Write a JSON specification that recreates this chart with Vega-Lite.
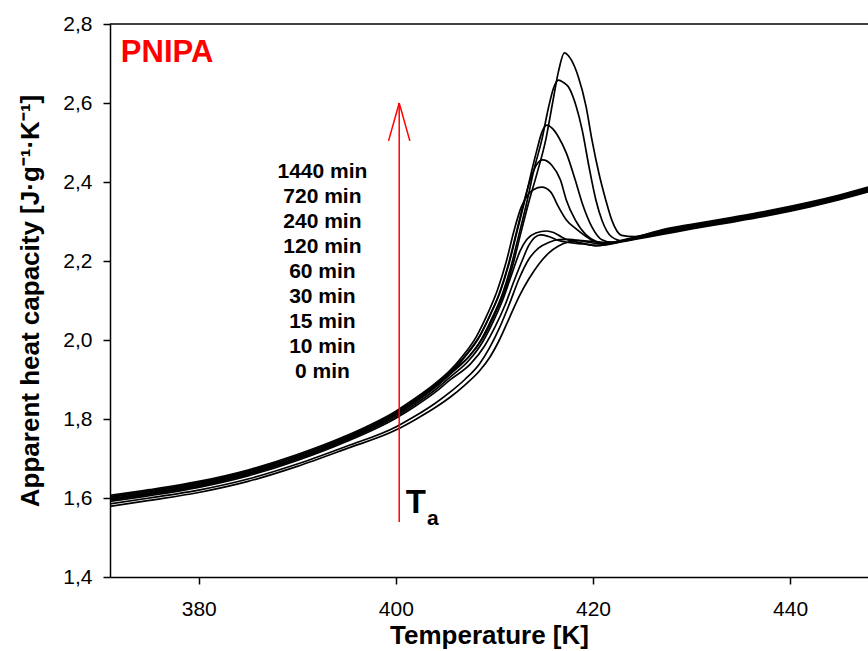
{
  "$schema": "https://vega.github.io/schema/vega-lite/v6.json",
  "width": 758,
  "height": 553,
  "autosize": {"type": "none"},
  "padding": {"left": 110, "top": 24, "right": 0, "bottom": 74},
  "background": "white",
  "config": {
    "view": {"stroke": null},
    "font": "Liberation Sans",
    "axis": {
      "domainColor": "black", "domainWidth": 1.5, "tickColor": "black", "tickWidth": 1.5, "tickSize": 7,
      "labelFont": "Liberation Sans", "labelFontSize": 21, "labelColor": "black",
      "titleFont": "Liberation Sans", "titleFontSize": 26, "titleFontWeight": "bold", "titleColor": "black",
      "grid": false
    }
  },
  "datasets": {
    "curves": [
      {"time":"1440 min","T":370.5,"Cp":1.600},{"time":"1440 min","T":375,"Cp":1.616},{"time":"1440 min","T":380,"Cp":1.637},{"time":"1440 min","T":385,"Cp":1.666},{"time":"1440 min","T":390,"Cp":1.705},{"time":"1440 min","T":395,"Cp":1.753},{"time":"1440 min","T":400,"Cp":1.815},{"time":"1440 min","T":402,"Cp":1.848},{"time":"1440 min","T":404,"Cp":1.885},{"time":"1440 min","T":405.5,"Cp":1.918},{"time":"1440 min","T":407.5,"Cp":1.960},{"time":"1440 min","T":408.9,"Cp":2.008},{"time":"1440 min","T":410.0,"Cp":2.063},{"time":"1440 min","T":411.0,"Cp":2.121},{"time":"1440 min","T":411.9,"Cp":2.193},{"time":"1440 min","T":412.7,"Cp":2.273},{"time":"1440 min","T":413.5,"Cp":2.35},{"time":"1440 min","T":414.3,"Cp":2.42},{"time":"1440 min","T":415.2,"Cp":2.506},{"time":"1440 min","T":415.9,"Cp":2.60},{"time":"1440 min","T":416.5,"Cp":2.68},{"time":"1440 min","T":417.1,"Cp":2.727},{"time":"1440 min","T":417.8,"Cp":2.709},{"time":"1440 min","T":418.5,"Cp":2.667},{"time":"1440 min","T":419.3,"Cp":2.591},{"time":"1440 min","T":419.9,"Cp":2.506},{"time":"1440 min","T":420.6,"Cp":2.422},{"time":"1440 min","T":421.3,"Cp":2.354},{"time":"1440 min","T":421.9,"Cp":2.304},{"time":"1440 min","T":422.9,"Cp":2.265},{"time":"1440 min","T":424.2,"Cp":2.262},{"time":"1440 min","T":427,"Cp":2.275},{"time":"1440 min","T":430,"Cp":2.289},{"time":"1440 min","T":434,"Cp":2.306},{"time":"1440 min","T":438,"Cp":2.324},{"time":"1440 min","T":442,"Cp":2.345},{"time":"1440 min","T":445,"Cp":2.363},{"time":"1440 min","T":448.5,"Cp":2.387},

      {"time":"720 min","T":370.5,"Cp":1.595},{"time":"720 min","T":375,"Cp":1.611},{"time":"720 min","T":380,"Cp":1.632},{"time":"720 min","T":385,"Cp":1.661},{"time":"720 min","T":390,"Cp":1.700},{"time":"720 min","T":395,"Cp":1.748},{"time":"720 min","T":400,"Cp":1.810},{"time":"720 min","T":402,"Cp":1.843},{"time":"720 min","T":404,"Cp":1.880},{"time":"720 min","T":405.5,"Cp":1.913},{"time":"720 min","T":407.3,"Cp":1.955},{"time":"720 min","T":408.7,"Cp":2.003},{"time":"720 min","T":409.8,"Cp":2.058},{"time":"720 min","T":410.8,"Cp":2.116},{"time":"720 min","T":411.7,"Cp":2.188},{"time":"720 min","T":412.5,"Cp":2.268},{"time":"720 min","T":413.3,"Cp":2.35},{"time":"720 min","T":414.0,"Cp":2.43},{"time":"720 min","T":414.8,"Cp":2.506},{"time":"720 min","T":415.5,"Cp":2.59},{"time":"720 min","T":416.0,"Cp":2.638},{"time":"720 min","T":416.5,"Cp":2.658},{"time":"720 min","T":417.0,"Cp":2.652},{"time":"720 min","T":417.5,"Cp":2.641},{"time":"720 min","T":418.3,"Cp":2.591},{"time":"720 min","T":418.9,"Cp":2.532},{"time":"720 min","T":419.6,"Cp":2.438},{"time":"720 min","T":420.3,"Cp":2.354},{"time":"720 min","T":420.9,"Cp":2.304},{"time":"720 min","T":421.9,"Cp":2.261},{"time":"720 min","T":423,"Cp":2.251},{"time":"720 min","T":424.5,"Cp":2.258},{"time":"720 min","T":427,"Cp":2.271},{"time":"720 min","T":430,"Cp":2.285},{"time":"720 min","T":434,"Cp":2.302},{"time":"720 min","T":438,"Cp":2.320},{"time":"720 min","T":442,"Cp":2.341},{"time":"720 min","T":445,"Cp":2.359},{"time":"720 min","T":448.5,"Cp":2.383},

      {"time":"240 min","T":370.5,"Cp":1.602},{"time":"240 min","T":375,"Cp":1.618},{"time":"240 min","T":380,"Cp":1.639},{"time":"240 min","T":385,"Cp":1.668},{"time":"240 min","T":390,"Cp":1.707},{"time":"240 min","T":395,"Cp":1.755},{"time":"240 min","T":400,"Cp":1.817},{"time":"240 min","T":402,"Cp":1.850},{"time":"240 min","T":404,"Cp":1.887},{"time":"240 min","T":405.5,"Cp":1.920},{"time":"240 min","T":407.1,"Cp":1.962},{"time":"240 min","T":408.5,"Cp":2.010},{"time":"240 min","T":409.6,"Cp":2.065},{"time":"240 min","T":410.6,"Cp":2.123},{"time":"240 min","T":411.5,"Cp":2.195},{"time":"240 min","T":412.3,"Cp":2.275},{"time":"240 min","T":413.1,"Cp":2.355},{"time":"240 min","T":413.8,"Cp":2.43},{"time":"240 min","T":414.3,"Cp":2.48},{"time":"240 min","T":414.8,"Cp":2.525},{"time":"240 min","T":415.3,"Cp":2.544},{"time":"240 min","T":415.9,"Cp":2.535},{"time":"240 min","T":416.5,"Cp":2.514},{"time":"240 min","T":417.3,"Cp":2.473},{"time":"240 min","T":418.2,"Cp":2.405},{"time":"240 min","T":418.9,"Cp":2.347},{"time":"240 min","T":419.9,"Cp":2.286},{"time":"240 min","T":420.9,"Cp":2.254},{"time":"240 min","T":422,"Cp":2.247},{"time":"240 min","T":423,"Cp":2.252},{"time":"240 min","T":424.5,"Cp":2.261},{"time":"240 min","T":427,"Cp":2.277},{"time":"240 min","T":430,"Cp":2.291},{"time":"240 min","T":434,"Cp":2.308},{"time":"240 min","T":438,"Cp":2.326},{"time":"240 min","T":442,"Cp":2.347},{"time":"240 min","T":445,"Cp":2.365},{"time":"240 min","T":448.5,"Cp":2.389},

      {"time":"120 min","T":370.5,"Cp":1.597},{"time":"120 min","T":375,"Cp":1.613},{"time":"120 min","T":380,"Cp":1.634},{"time":"120 min","T":385,"Cp":1.663},{"time":"120 min","T":390,"Cp":1.702},{"time":"120 min","T":395,"Cp":1.750},{"time":"120 min","T":400,"Cp":1.812},{"time":"120 min","T":402,"Cp":1.845},{"time":"120 min","T":404,"Cp":1.882},{"time":"120 min","T":405.5,"Cp":1.915},{"time":"120 min","T":407,"Cp":1.957},{"time":"120 min","T":408.4,"Cp":2.005},{"time":"120 min","T":409.5,"Cp":2.06},{"time":"120 min","T":410.5,"Cp":2.118},{"time":"120 min","T":411.4,"Cp":2.19},{"time":"120 min","T":412.2,"Cp":2.27},{"time":"120 min","T":413.0,"Cp":2.35},{"time":"120 min","T":413.7,"Cp":2.41},{"time":"120 min","T":414.3,"Cp":2.445},{"time":"120 min","T":414.9,"Cp":2.456},{"time":"120 min","T":415.8,"Cp":2.443},{"time":"120 min","T":416.7,"Cp":2.405},{"time":"120 min","T":417.3,"Cp":2.354},{"time":"120 min","T":418.2,"Cp":2.304},{"time":"120 min","T":419.3,"Cp":2.266},{"time":"120 min","T":420.3,"Cp":2.250},{"time":"120 min","T":421.5,"Cp":2.244},{"time":"120 min","T":423,"Cp":2.250},{"time":"120 min","T":424.5,"Cp":2.257},{"time":"120 min","T":427,"Cp":2.269},{"time":"120 min","T":430,"Cp":2.283},{"time":"120 min","T":434,"Cp":2.300},{"time":"120 min","T":438,"Cp":2.318},{"time":"120 min","T":442,"Cp":2.339},{"time":"120 min","T":445,"Cp":2.357},{"time":"120 min","T":448.5,"Cp":2.381},

      {"time":"60 min","T":370.5,"Cp":1.605},{"time":"60 min","T":375,"Cp":1.621},{"time":"60 min","T":380,"Cp":1.642},{"time":"60 min","T":385,"Cp":1.671},{"time":"60 min","T":390,"Cp":1.710},{"time":"60 min","T":395,"Cp":1.758},{"time":"60 min","T":400,"Cp":1.820},{"time":"60 min","T":402,"Cp":1.853},{"time":"60 min","T":404,"Cp":1.890},{"time":"60 min","T":405.5,"Cp":1.923},{"time":"60 min","T":406.8,"Cp":1.960},{"time":"60 min","T":408.2,"Cp":2.010},{"time":"60 min","T":409.3,"Cp":2.066},{"time":"60 min","T":410.3,"Cp":2.126},{"time":"60 min","T":411.2,"Cp":2.198},{"time":"60 min","T":412.0,"Cp":2.278},{"time":"60 min","T":412.7,"Cp":2.335},{"time":"60 min","T":413.4,"Cp":2.368},{"time":"60 min","T":414.0,"Cp":2.381},{"time":"60 min","T":414.8,"Cp":2.387},{"time":"60 min","T":415.7,"Cp":2.375},{"time":"60 min","T":416.5,"Cp":2.337},{"time":"60 min","T":417.3,"Cp":2.304},{"time":"60 min","T":418.2,"Cp":2.283},{"time":"60 min","T":419.3,"Cp":2.262},{"time":"60 min","T":420.3,"Cp":2.248},{"time":"60 min","T":421.5,"Cp":2.245},{"time":"60 min","T":423,"Cp":2.251},{"time":"60 min","T":424.5,"Cp":2.259},{"time":"60 min","T":427,"Cp":2.273},{"time":"60 min","T":430,"Cp":2.287},{"time":"60 min","T":434,"Cp":2.304},{"time":"60 min","T":438,"Cp":2.322},{"time":"60 min","T":442,"Cp":2.343},{"time":"60 min","T":445,"Cp":2.361},{"time":"60 min","T":448.5,"Cp":2.385},

      {"time":"30 min","T":370.5,"Cp":1.593},{"time":"30 min","T":375,"Cp":1.609},{"time":"30 min","T":380,"Cp":1.630},{"time":"30 min","T":385,"Cp":1.659},{"time":"30 min","T":390,"Cp":1.698},{"time":"30 min","T":395,"Cp":1.746},{"time":"30 min","T":400,"Cp":1.806},{"time":"30 min","T":402,"Cp":1.838},{"time":"30 min","T":404,"Cp":1.874},{"time":"30 min","T":405.5,"Cp":1.906},{"time":"30 min","T":407.4,"Cp":1.948},{"time":"30 min","T":408.8,"Cp":1.995},{"time":"30 min","T":409.9,"Cp":2.048},{"time":"30 min","T":410.9,"Cp":2.105},{"time":"30 min","T":411.8,"Cp":2.17},{"time":"30 min","T":412.6,"Cp":2.225},{"time":"30 min","T":413.3,"Cp":2.255},{"time":"30 min","T":414.2,"Cp":2.271},{"time":"30 min","T":415.3,"Cp":2.276},{"time":"30 min","T":416.0,"Cp":2.272},{"time":"30 min","T":416.8,"Cp":2.261},{"time":"30 min","T":417.5,"Cp":2.253},{"time":"30 min","T":418.8,"Cp":2.246},{"time":"30 min","T":420.3,"Cp":2.239},{"time":"30 min","T":421.5,"Cp":2.243},{"time":"30 min","T":423,"Cp":2.253},{"time":"30 min","T":424.5,"Cp":2.262},{"time":"30 min","T":427,"Cp":2.279},{"time":"30 min","T":430,"Cp":2.293},{"time":"30 min","T":434,"Cp":2.310},{"time":"30 min","T":438,"Cp":2.328},{"time":"30 min","T":442,"Cp":2.349},{"time":"30 min","T":445,"Cp":2.367},{"time":"30 min","T":448.5,"Cp":2.391},

      {"time":"15 min","T":370.5,"Cp":1.590},{"time":"15 min","T":375,"Cp":1.606},{"time":"15 min","T":380,"Cp":1.627},{"time":"15 min","T":385,"Cp":1.656},{"time":"15 min","T":390,"Cp":1.695},{"time":"15 min","T":395,"Cp":1.743},{"time":"15 min","T":400,"Cp":1.802},{"time":"15 min","T":402,"Cp":1.833},{"time":"15 min","T":404,"Cp":1.868},{"time":"15 min","T":405.5,"Cp":1.899},{"time":"15 min","T":407.6,"Cp":1.940},{"time":"15 min","T":409.0,"Cp":1.985},{"time":"15 min","T":410.1,"Cp":2.035},{"time":"15 min","T":411.1,"Cp":2.09},{"time":"15 min","T":412.0,"Cp":2.15},{"time":"15 min","T":412.8,"Cp":2.20},{"time":"15 min","T":413.5,"Cp":2.24},{"time":"15 min","T":414.1,"Cp":2.26},{"time":"15 min","T":414.7,"Cp":2.266},{"time":"15 min","T":415.5,"Cp":2.262},{"time":"15 min","T":416.5,"Cp":2.252},{"time":"15 min","T":417.5,"Cp":2.247},{"time":"15 min","T":419,"Cp":2.243},{"time":"15 min","T":420.5,"Cp":2.239},{"time":"15 min","T":422,"Cp":2.244},{"time":"15 min","T":423,"Cp":2.249},{"time":"15 min","T":424.5,"Cp":2.256},{"time":"15 min","T":427,"Cp":2.267},{"time":"15 min","T":430,"Cp":2.281},{"time":"15 min","T":434,"Cp":2.298},{"time":"15 min","T":438,"Cp":2.316},{"time":"15 min","T":442,"Cp":2.337},{"time":"15 min","T":445,"Cp":2.355},{"time":"15 min","T":448.5,"Cp":2.379},

      {"time":"10 min","T":370.5,"Cp":1.583},{"time":"10 min","T":375,"Cp":1.600},{"time":"10 min","T":380,"Cp":1.620},{"time":"10 min","T":385,"Cp":1.648},{"time":"10 min","T":390,"Cp":1.686},{"time":"10 min","T":395,"Cp":1.731},{"time":"10 min","T":400,"Cp":1.780},{"time":"10 min","T":402,"Cp":1.808},{"time":"10 min","T":404,"Cp":1.840},{"time":"10 min","T":405.5,"Cp":1.868},{"time":"10 min","T":407,"Cp":1.900},{"time":"10 min","T":408.5,"Cp":1.94},{"time":"10 min","T":409.5,"Cp":1.98},{"time":"10 min","T":410.5,"Cp":2.03},{"time":"10 min","T":411.5,"Cp":2.09},{"time":"10 min","T":412.5,"Cp":2.155},{"time":"10 min","T":413.5,"Cp":2.205},{"time":"10 min","T":414.5,"Cp":2.233},{"time":"10 min","T":415.5,"Cp":2.247},{"time":"10 min","T":416.5,"Cp":2.254},{"time":"10 min","T":417.5,"Cp":2.255},{"time":"10 min","T":419,"Cp":2.250},{"time":"10 min","T":420.5,"Cp":2.244},{"time":"10 min","T":422,"Cp":2.247},{"time":"10 min","T":423,"Cp":2.252},{"time":"10 min","T":424.5,"Cp":2.260},{"time":"10 min","T":427,"Cp":2.275},{"time":"10 min","T":430,"Cp":2.289},{"time":"10 min","T":434,"Cp":2.306},{"time":"10 min","T":438,"Cp":2.324},{"time":"10 min","T":442,"Cp":2.345},{"time":"10 min","T":445,"Cp":2.363},{"time":"10 min","T":448.5,"Cp":2.387},

      {"time":"0 min","T":370.5,"Cp":1.577},{"time":"0 min","T":375,"Cp":1.594},{"time":"0 min","T":380,"Cp":1.614},{"time":"0 min","T":385,"Cp":1.642},{"time":"0 min","T":390,"Cp":1.680},{"time":"0 min","T":395,"Cp":1.725},{"time":"0 min","T":400,"Cp":1.772},{"time":"0 min","T":402,"Cp":1.799},{"time":"0 min","T":404,"Cp":1.829},{"time":"0 min","T":405.5,"Cp":1.855},{"time":"0 min","T":407,"Cp":1.886},{"time":"0 min","T":408.5,"Cp":1.922},{"time":"0 min","T":409.5,"Cp":1.955},{"time":"0 min","T":410.5,"Cp":2.0},{"time":"0 min","T":411.5,"Cp":2.055},{"time":"0 min","T":412.5,"Cp":2.11},{"time":"0 min","T":413.5,"Cp":2.155},{"time":"0 min","T":414.5,"Cp":2.192},{"time":"0 min","T":415.5,"Cp":2.22},{"time":"0 min","T":416.5,"Cp":2.238},{"time":"0 min","T":417.5,"Cp":2.248},{"time":"0 min","T":418.5,"Cp":2.252},{"time":"0 min","T":420,"Cp":2.249},{"time":"0 min","T":421.5,"Cp":2.247},{"time":"0 min","T":423,"Cp":2.251},{"time":"0 min","T":424.5,"Cp":2.258},{"time":"0 min","T":427,"Cp":2.271},{"time":"0 min","T":430,"Cp":2.285},{"time":"0 min","T":434,"Cp":2.302},{"time":"0 min","T":438,"Cp":2.320},{"time":"0 min","T":442,"Cp":2.341},{"time":"0 min","T":445,"Cp":2.359},{"time":"0 min","T":448.5,"Cp":2.383}
    ],
    "labels": [
      {"label":"1440 min","T":392.55,"Cp":2.426},
      {"label":"720 min","T":392.55,"Cp":2.363},
      {"label":"240 min","T":392.55,"Cp":2.2995},
      {"label":"120 min","T":392.55,"Cp":2.236},
      {"label":"60 min","T":392.55,"Cp":2.173},
      {"label":"30 min","T":392.55,"Cp":2.110},
      {"label":"15 min","T":392.55,"Cp":2.046},
      {"label":"10 min","T":392.55,"Cp":1.983},
      {"label":"0 min","T":392.55,"Cp":1.920}
    ],
    "arrow": [
      {"T":400.34,"Cp":1.539,"T2":400.34,"Cp2":2.6},
      {"T":399.26,"Cp":2.504,"T2":400.34,"Cp2":2.6},
      {"T":401.42,"Cp":2.504,"T2":400.34,"Cp2":2.6}
    ]
  },
  "layer": [
    {
      "data": {"name": "curves"},
      "mark": {"type": "line", "color": "black", "strokeWidth": 1.7, "interpolate": "monotone", "clip": true},
      "encoding": {
        "x": {"field": "T", "type": "quantitative", "scale": {"domain": [371, 447.9], "nice": false, "zero": false},
              "axis": {"values": [380, 400, 420, 440], "labelPadding": 14, "title": "Temperature [K]", "titlePadding": 3, "labelFlush": false}},
        "y": {"field": "Cp", "type": "quantitative", "scale": {"domain": [1.4, 2.8], "nice": false, "zero": false},
              "axis": {"values": [1.4, 1.6, 1.8, 2.0, 2.2, 2.4, 2.6, 2.8], "labelPadding": 11, "labelExpr": "replace(format(datum.value, '.1f'), '.', ',')", "title": "Apparent heat capacity [J·g⁻¹·K⁻¹]", "titlePadding": 19, "labelFlush": false}},
        "detail": {"field": "time", "type": "nominal"}
      }
    },
    {
      "data": {"values": [{"Cp": 2.8}]},
      "mark": {"type": "rule", "color": "black", "strokeWidth": 1.5},
      "encoding": {"y": {"field": "Cp", "type": "quantitative"}}
    },
    {
      "data": {"name": "arrow"},
      "mark": {"type": "rule", "color": "#ff0000", "strokeWidth": 1.5},
      "encoding": {
        "x": {"field": "T", "type": "quantitative"},
        "y": {"field": "Cp", "type": "quantitative"},
        "x2": {"field": "T2"},
        "y2": {"field": "Cp2"}
      }
    },
    {
      "data": {"name": "labels"},
      "mark": {"type": "text", "font": "Liberation Sans", "fontSize": 21, "fontWeight": "bold", "color": "black", "align": "center", "baseline": "middle"},
      "encoding": {
        "x": {"field": "T", "type": "quantitative"},
        "y": {"field": "Cp", "type": "quantitative"},
        "text": {"field": "label"}
      }
    },
    {
      "data": {"values": [{"txt": "PNIPA", "T": 372.1, "Cp": 2.704}]},
      "mark": {"type": "text", "font": "Liberation Sans", "fontSize": 31, "fontWeight": "bold", "color": "#ff0000", "align": "left", "baseline": "alphabetic"},
      "encoding": {"x": {"field": "T", "type": "quantitative"}, "y": {"field": "Cp", "type": "quantitative"}, "text": {"field": "txt"}}
    },
    {
      "data": {"values": [{"txt": "T", "T": 401.0, "Cp": 1.562}]},
      "mark": {"type": "text", "font": "Liberation Sans", "fontSize": 33, "fontWeight": "bold", "color": "black", "align": "left", "baseline": "alphabetic"},
      "encoding": {"x": {"field": "T", "type": "quantitative"}, "y": {"field": "Cp", "type": "quantitative"}, "text": {"field": "txt"}}
    },
    {
      "data": {"values": [{"txt": "a", "T": 403.17, "Cp": 1.532}]},
      "mark": {"type": "text", "font": "Liberation Sans", "fontSize": 21, "fontWeight": "bold", "color": "black", "align": "left", "baseline": "alphabetic"},
      "encoding": {"x": {"field": "T", "type": "quantitative"}, "y": {"field": "Cp", "type": "quantitative"}, "text": {"field": "txt"}}
    }
  ]
}
